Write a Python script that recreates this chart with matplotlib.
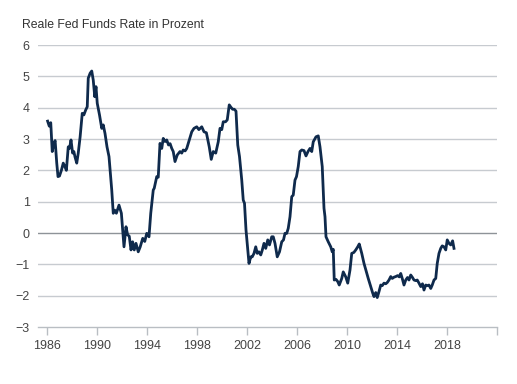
import matplotlib
matplotlib.use("Agg")
import matplotlib.pyplot as plt

plt.rcParams['font.family'] = ['Liberation Sans', 'DejaVu Sans']

title = "Reale Fed Funds Rate in Prozent"

years = [
    1986.05, 1986.18, 1986.3, 1986.42, 1986.55, 1986.65, 1986.78, 1986.88,
    1987.0, 1987.15, 1987.3, 1987.45, 1987.55, 1987.7, 1987.8, 1987.92,
    1988.05, 1988.15, 1988.24, 1988.38, 1988.5, 1988.65, 1988.82, 1988.95,
    1989.1, 1989.22, 1989.3, 1989.45, 1989.58, 1989.7, 1989.82, 1989.92,
    1990.02, 1990.2, 1990.38, 1990.5, 1990.64, 1990.8, 1990.96, 1991.18,
    1991.3, 1991.42, 1991.55, 1991.76, 1991.95, 1992.16, 1992.32, 1992.45,
    1992.58, 1992.72, 1992.85, 1992.98, 1993.12, 1993.3, 1993.45, 1993.66,
    1993.82, 1993.98, 1994.16, 1994.3, 1994.5, 1994.58, 1994.78, 1994.9,
    1995.04, 1995.18, 1995.3, 1995.45, 1995.58, 1995.72, 1995.85, 1995.98,
    1996.1, 1996.24, 1996.42, 1996.64, 1996.78, 1996.9, 1997.05, 1997.18,
    1997.38, 1997.58, 1997.76, 1997.98, 1998.15, 1998.38, 1998.56, 1998.75,
    1998.98, 1999.14, 1999.3, 1999.5, 1999.7, 1999.84, 1999.98, 2000.1,
    2000.28, 2000.42, 2000.58, 2000.72, 2000.85, 2000.98, 2001.12, 2001.26,
    2001.4, 2001.58, 2001.7, 2001.8, 2001.92, 2002.04, 2002.16, 2002.3,
    2002.42, 2002.56, 2002.7, 2002.82, 2002.95, 2003.1, 2003.22, 2003.36,
    2003.5, 2003.66, 2003.8, 2003.98, 2004.1, 2004.24, 2004.42, 2004.6,
    2004.78, 2004.92, 2005.04, 2005.18, 2005.3, 2005.44, 2005.58, 2005.7,
    2005.84, 2005.96, 2006.1, 2006.24, 2006.38, 2006.56, 2006.72, 2006.88,
    2007.04, 2007.18, 2007.3, 2007.52, 2007.7, 2007.84, 2008.02, 2008.16,
    2008.24, 2008.32, 2008.5, 2008.7, 2008.82, 2008.9, 2008.98, 2009.12,
    2009.26, 2009.38, 2009.58, 2009.7, 2009.9, 2010.06, 2010.24, 2010.38,
    2010.55, 2010.7, 2010.86, 2010.98, 2011.18, 2011.36, 2011.52, 2011.7,
    2011.9, 2012.06, 2012.16, 2012.3, 2012.42, 2012.56, 2012.7, 2012.82,
    2012.96, 2013.1, 2013.22, 2013.36, 2013.5, 2013.62, 2013.76, 2013.9,
    2014.05, 2014.18, 2014.3, 2014.42, 2014.56, 2014.7, 2014.84, 2014.96,
    2015.1, 2015.24, 2015.36, 2015.5, 2015.62, 2015.76, 2015.9, 2016.04,
    2016.16, 2016.3, 2016.44, 2016.56, 2016.7, 2016.82, 2016.96, 2017.1,
    2017.22, 2017.36, 2017.5, 2017.62, 2017.76, 2017.9, 2018.02, 2018.16,
    2018.3, 2018.45, 2018.56,
]

rate = [
    3.57, 3.41, 3.52, 2.6, 2.87, 2.95, 2.23, 1.8,
    1.82, 2.0, 2.23, 2.1, 2.0, 2.75, 2.7, 2.97,
    2.55, 2.6, 2.43, 2.23, 2.55, 3.07, 3.82, 3.77,
    3.93, 4.03, 4.94, 5.1, 5.17, 4.88, 4.35, 4.67,
    4.14, 3.77, 3.34, 3.45, 3.18, 2.75, 2.44, 1.37,
    0.63, 0.73, 0.63, 0.89, 0.63, -0.44, 0.2, -0.06,
    -0.1, -0.54, -0.28, -0.54, -0.33, -0.6, -0.45, -0.17,
    -0.27, -0.01, -0.12, 0.63, 1.37, 1.43, 1.8, 1.78,
    2.86, 2.7, 3.02, 2.92, 2.97, 2.81, 2.85, 2.7,
    2.6, 2.28, 2.49, 2.6, 2.55, 2.65, 2.62, 2.7,
    2.97, 3.23, 3.34, 3.39, 3.3, 3.39, 3.23, 3.2,
    2.75, 2.35, 2.6, 2.55, 2.91, 3.34, 3.3, 3.55,
    3.55, 3.61, 4.09, 4.01, 3.95, 3.95, 3.89, 2.81,
    2.44, 1.69, 1.05, 0.95, 0.1, -0.44, -0.97, -0.76,
    -0.76, -0.65, -0.44, -0.65, -0.6, -0.7, -0.55, -0.33,
    -0.49, -0.22, -0.38, -0.12, -0.12, -0.33, -0.76, -0.6,
    -0.28, -0.22, -0.01, -0.01, 0.15, 0.52, 1.16, 1.21,
    1.69, 1.8, 2.12, 2.6, 2.65, 2.63, 2.46, 2.6,
    2.7, 2.6, 2.91, 3.07, 3.1, 2.75, 2.12, 0.79,
    0.52, -0.12, -0.28, -0.44, -0.6, -0.52, -1.5, -1.48,
    -1.55, -1.66, -1.45, -1.24, -1.4, -1.6, -1.18, -0.65,
    -0.62, -0.54, -0.44, -0.35, -0.65, -0.97, -1.2, -1.45,
    -1.71, -1.92, -2.03, -1.9, -2.06, -1.87, -1.66, -1.68,
    -1.6, -1.62, -1.58, -1.5, -1.39, -1.45, -1.41, -1.39,
    -1.36, -1.4, -1.29, -1.45, -1.66, -1.5, -1.42, -1.5,
    -1.34, -1.42, -1.5, -1.52, -1.5, -1.6, -1.71, -1.62,
    -1.82, -1.66, -1.68, -1.66, -1.77, -1.66, -1.5, -1.45,
    -0.97, -0.65, -0.49, -0.41, -0.44, -0.54, -0.22, -0.33,
    -0.38, -0.25, -0.49,
]

xticks = [1986, 1990, 1994, 1998, 2002, 2006, 2010, 2014, 2018, 2022]
xticklabels = ["1986", "1990", "1994", "1998", "2002", "2006", "2010", "2014", "2018", ""]
yticks = [-3, -2, -1, 0, 1, 2, 3, 4, 5, 6]

fig = plt.figure(figsize=(5.17, 3.84), dpi=100)
ax = fig.add_axes([0.0735, 0.1484, 0.8878, 0.7344])

grid_c = "#c7cbd0"
for v in yticks:
    if v == -3:
        continue
    ax.axhline(v, color="#8e9398" if v == 0 else grid_c, lw=1.0, zorder=1)

ax.plot(years, rate, color="#0f2a4c", lw=2.0, zorder=3)

ax.set_xlim(1985.28, 2022.0)
ax.set_ylim(-3, 6)
ax.set_xticks(xticks)
ax.set_xticklabels(xticklabels)
ax.set_yticks(yticks)
ax.set_yticklabels([str(v) if v >= 0 else "\u2212" + str(-v) for v in yticks])

for s in ["top", "right", "left"]:
    ax.spines[s].set_visible(False)
ax.spines["bottom"].set_color("#b9bec3")
ax.spines["bottom"].set_linewidth(1.0)

ax.tick_params(axis="x", length=6, width=1.0, color="#b9bec3", labelsize=9,
               labelcolor="#444444", pad=3)
ax.tick_params(axis="y", length=0, labelsize=9, labelcolor="#444444", pad=6)

fig.text(0.0426, 0.935, title, fontsize=8.8, color="#333333", va="center", ha="left")

fig.savefig("out.png", dpi=100)
